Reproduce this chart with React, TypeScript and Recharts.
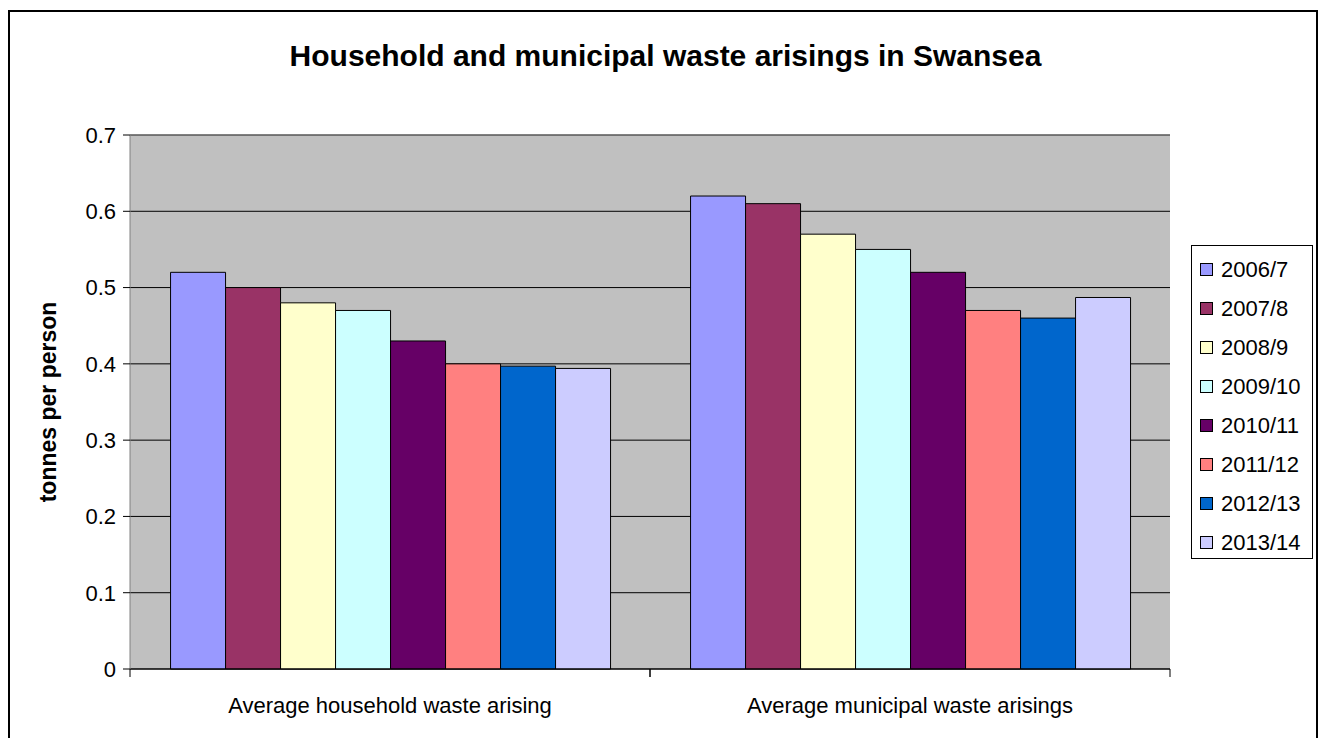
import { BarChart, Bar, XAxis, YAxis, CartesianGrid, Legend, ReferenceLine } from 'recharts';

const categories = ['Average household waste arising', 'Average municipal waste arisings'];
const years = ['2006/7', '2007/8', '2008/9', '2009/10', '2010/11', '2011/12', '2012/13', '2013/14'];
const household = [0.52, 0.5, 0.48, 0.47, 0.43, 0.4, 0.397, 0.394];
const municipal = [0.62, 0.61, 0.57, 0.55, 0.52, 0.47, 0.46, 0.487];
const colors = ['#9999FF', '#993366', '#FFFFCC', '#CCFFFF', '#660066', '#FF8080', '#0066CC', '#CCCCFF'];
const yTicks = [0, 0.1, 0.2, 0.3, 0.4, 0.5, 0.6, 0.7];

const data = categories.map((name, i) => {
  const row: Record<string, string | number> = { name };
  years.forEach((y, j) => {
    row[y] = i === 0 ? household[j] : municipal[j];
  });
  return row;
});

const FONT = '"Liberation Sans", Arial, sans-serif';

function CategoryTick({ x, y, payload }: any) {
  const half = payload.offset ?? 0;
  return (
    <g>
      <line x1={x - half} y1={y - 8} x2={x - half} y2={y} stroke="#000" />
      <line x1={x + half} y1={y - 8} x2={x + half} y2={y} stroke="#000" />
      <text x={x} y={y + 36} textAnchor="middle" fontSize={22} fill="#000" fontFamily={FONT}>
        {payload.value}
      </text>
    </g>
  );
}

function LegendBox() {
  return (
    <div
      style={{
        border: '1px solid #000',
        background: '#fff',
        width: 120,
        height: 308,
        boxSizing: 'content-box',
        fontFamily: FONT,
        fontSize: 22,
        paddingTop: 4,
        color: '#000',
      }}
    >
      {years.map((y, i) => (
        <div key={y} style={{ display: 'flex', alignItems: 'center', height: 39 }}>
          <span
            style={{
              display: 'inline-block',
              width: 11,
              height: 11,
              border: '1px solid #000',
              background: colors[i],
              marginLeft: 8,
              marginRight: 8,
              flexShrink: 0,
            }}
          />
          <span>{y}</span>
        </div>
      ))}
    </div>
  );
}

export default function App() {
  return (
    <div style={{ position: 'relative', width: 1321, height: 738, overflow: 'hidden', background: '#fff' }}>
      <style>{'body{margin:0}'}</style>
      <div
        style={{
          position: 'absolute',
          left: 8,
          top: 10,
          width: 1306,
          height: 740,
          border: '2px solid #000',
        }}
      />
      <div
        style={{
          position: 'absolute',
          left: 0,
          width: 1321,
          top: 39,
          textAlign: 'center',
          paddingLeft: 5,
          fontFamily: FONT,
          fontWeight: 'bold',
          fontSize: 30,
          lineHeight: '34px',
        }}
      >
        Household and municipal waste arisings in Swansea
      </div>
      <div
        style={{
          position: 'absolute',
          left: 48,
          top: 402,
          transform: 'translate(-50%, -50%) rotate(-90deg)',
          whiteSpace: 'nowrap',
          fontFamily: FONT,
          fontWeight: 'bold',
          fontSize: 23,
        }}
      >
        tonnes per person
      </div>
      <div style={{ position: 'absolute', left: 0, top: 0 }}>
        <BarChart
          width={1321}
          height={738}
          data={data}
          margin={{ top: 135, left: 70, right: 151, bottom: 39 }}
          barCategoryGap="7.8%"
          barGap={0}
        >
          <CartesianGrid vertical={false} fill="#C0C0C0" stroke="#000" strokeWidth={1} />
          <XAxis
            dataKey="name"
            height={30}
            axisLine={{ stroke: '#000' }}
            tickLine={false}
            tick={<CategoryTick />}
            interval={0}
          />
          <YAxis
            width={60}
            domain={[0, 0.7]}
            ticks={yTicks}
            interval={0}
            axisLine={{ stroke: '#808080' }}
            tickLine={{ stroke: '#000' }}
            tickSize={7}
            tickMargin={7}
            tick={{ fontSize: 22, fill: '#000', fontFamily: FONT }}
          />
          <YAxis
            yAxisId="right"
            orientation="right"
            width={0}
            domain={[0, 0.7]}
            tick={false}
            tickLine={false}
            axisLine={{ stroke: '#808080' }}
          />
          <ReferenceLine y={0.7} stroke="#808080" />
          <Legend
            layout="horizontal"
            verticalAlign="middle"
            align="center"
            content={<LegendBox />}
            wrapperStyle={{ left: 1191, top: 245, width: 122 }}
          />
          {years.map((y, i) => (
            <Bar
              key={y}
              dataKey={y}
              fill={colors[i]}
              stroke="#000"
              strokeWidth={1}
              isAnimationActive={false}
            />
          ))}
        </BarChart>
      </div>
    </div>
  );
}
